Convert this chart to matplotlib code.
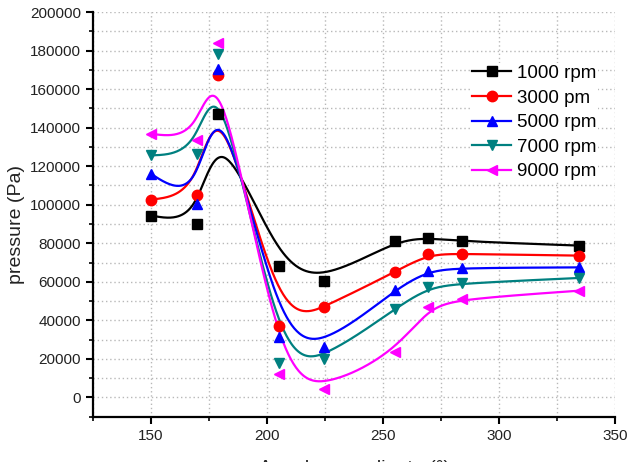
import numpy as np
import matplotlib
matplotlib.use("Agg")
import matplotlib.pyplot as plt
from matplotlib.ticker import MultipleLocator

plt.rcParams['font.family'] = ['Liberation Sans', 'DejaVu Sans']

angle = [150, 170, 179, 205, 224.5, 255, 269.5, 284, 334.5]
p1000 = [94400, 90000, 146900, 68400, 60600, 81400, 82800, 81000, 78800]
p3000 = [102700, 105100, 167100, 37200, 46800, 65000, 74500, 74500, 73600]
p5000 = [116000, 100500, 170600, 31500, 26300, 55900, 65800, 67200, 67500]
p7000 = [125600, 126400, 178400, 17700, 19900, 45900, 57100, 59200, 62000]
p9000 = [136800, 133700, 183900, 12100, 4400, 23400, 46800, 51100, 55400]
labels = ["1000 rpm", "3000 pm", "5000 rpm", "7000 rpm", "9000 rpm"]
colors = ["#000000", "#ff0000", "#0000ff", "#008080", "#ff00ff"]
markers = ["s", "o", "^", "v", "<"]


def bspline(xs, ys, per_seg=60):
    """Uniform cubic B-spline with reflected phantom end points."""
    P = np.column_stack([xs, ys]).astype(float)
    P = np.vstack([2 * P[0] - P[1], P, 2 * P[-1] - P[-2]])
    M = np.array([[-1, 3, -3, 1], [3, -6, 3, 0], [-3, 0, 3, 0], [1, 4, 1, 0]]) / 6.0
    u = np.linspace(0, 1, per_seg)
    U = np.column_stack([u ** 3, u ** 2, u, np.ones_like(u)])
    out = []
    for i in range(len(P) - 3):
        out.append(U @ M @ P[i:i + 4])
    C = np.vstack(out)
    return C[:, 0], C[:, 1]


fig = plt.figure(figsize=(6.38, 4.62), dpi=100)
ax = fig.add_axes([0.1458, 0.098, 0.8182, 0.876])

for ys, lab, c, m in zip([p1000, p3000, p5000, p7000, p9000], labels, colors, markers):
    cx, cy = bspline(angle, ys)
    ax.plot(cx, cy, color=c, lw=1.6, zorder=3)
    ax.plot(angle, ys, linestyle='none', marker=m, color=c, ms=7.5, zorder=4)
    ax.plot([], [], color=c, lw=1.6, marker=m, ms=7.5, label=lab)

ax.set_xlim(125, 350)
ax.set_ylim(-10000, 200000)
ax.xaxis.set_major_locator(MultipleLocator(50))
ax.xaxis.set_minor_locator(MultipleLocator(25))
ax.yaxis.set_minor_locator(MultipleLocator(10000))
ax.set_yticks(np.arange(0, 200001, 20000))
ax.grid(True, which='both', linestyle=(0, (1, 2)), color='#b8b8b8', lw=1.0, zorder=0)
ax.set_axisbelow(True)
for s in ['top', 'right']:
    ax.spines[s].set_visible(False)
for s in ['left', 'bottom']:
    ax.spines[s].set_linewidth(1.6)
ax.tick_params(which='major', direction='out', length=5, width=1.5, labelsize=11, labelcolor='#222222')
ax.tick_params(which='minor', direction='out', length=3, width=1.2)
ax.set_ylabel("pressure (Pa)", fontsize=14, color='#222222')
ax.yaxis.set_label_coords(-0.131, 0.474)
ax.set_xlabel("Angular coordinate (\u00b0)", fontsize=14, color='#222222', va='top')
ax.xaxis.set_label_coords(0.5, -0.108)

leg = ax.legend(loc='upper left', bbox_to_anchor=(470 / 638, 1 - 63 / 462), bbox_transform=fig.transFigure,
                frameon=True, fontsize=13.5, handlelength=2.1, handletextpad=0.3, labelspacing=0.4,
                borderpad=0.1, borderaxespad=0)
leg.get_frame().set_edgecolor('none')
leg.get_frame().set_facecolor('white')
leg.get_frame().set_alpha(1)

fig.savefig("out.png", dpi=100)
